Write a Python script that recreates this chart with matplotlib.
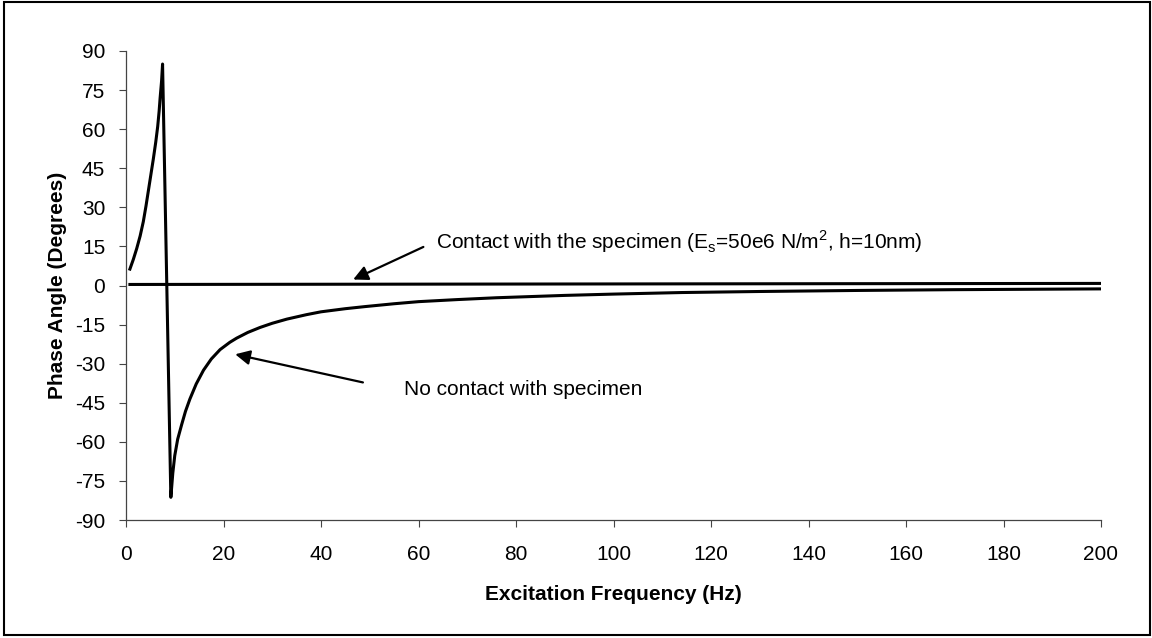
import numpy as np
import matplotlib
matplotlib.use("Agg")
import matplotlib.pyplot as plt
from matplotlib.patches import Rectangle

plt.rcParams['font.family'] = ['Liberation Sans', 'DejaVu Sans']
plt.rcParams['mathtext.fontset'] = 'custom'
plt.rcParams['mathtext.rm'] = 'Liberation Sans'
plt.rcParams['axes.unicode_minus'] = False

# no contact with specimen
freq_free = [0.8, 1.5, 2.2, 2.9, 3.55, 4.1, 4.6, 5.1, 5.6, 6.1, 6.5, 6.8, 7.0, 7.3, 7.5,
             9.2, 9.6, 10.0, 10.6, 11.4, 12.2, 13.1, 14.4, 15.9, 17.5, 19.3, 21.3,
             22.7, 25.0, 27.5, 30.0, 33.0, 37.0, 40.0, 45.0, 49.0, 55.0, 60.0, 68.0,
             76.0, 90.0, 100.0, 114.0, 130.0, 150.0, 170.0, 185.0, 200.0]
phase_free = [6.3, 10.0, 14.2, 19.0, 24.5, 30.5, 36.5, 42.5, 48.5, 55.0, 61.0, 67.0, 72.0,
              78.5, 85.0, -81.3, -72.0, -65.3, -59.0, -53.5, -48.3, -43.6, -37.8, -32.5,
              -28.2, -24.6, -21.8, -20.2, -18.0, -16.1, -14.5, -12.9, -11.2, -10.1, -8.9,
              -8.1, -7.0, -6.2, -5.4, -4.7, -3.8, -3.3, -2.7, -2.3, -1.9, -1.6, -1.45, -1.3]

# contact with the specimen
freq_contact = [0.8, 100.0, 200.0]
phase_contact = [0.4, 0.6, 0.8]

x_ticks = list(range(0, 201, 20))
y_ticks = list(range(-90, 91, 15))

fig = plt.figure(figsize=(11.52, 6.38), dpi=100)
ax = fig.add_axes([126/1152, 1-520/638, 975/1152, 469/638])

ax.plot(freq_contact, phase_contact, color='black', lw=2.2)
ax.plot(freq_free, phase_free, color='black', lw=2.2, solid_joinstyle='round')

ax.set_xlim(0, 200)
ax.set_ylim(-90, 90)
ax.set_xticks(x_ticks)
ax.set_yticks(y_ticks)
ax.tick_params(axis='both', labelsize=15, direction='out', length=5, width=0.8, color='#444')
ax.tick_params(axis='x', pad=13)
ax.tick_params(axis='y', pad=10)
for s in ['top', 'right']:
    ax.spines[s].set_visible(False)
for s in ['left', 'bottom']:
    ax.spines[s].set_color('#444')
    ax.spines[s].set_linewidth(0.9)

ax.set_xlabel('Excitation Frequency (Hz)', fontsize=15, fontweight='bold', labelpad=15)
ax.set_ylabel('Phase Angle (Degrees)', fontsize=15, fontweight='bold', labelpad=6)

ax.text(63.6, 16.9, r'Contact with the specimen (E$_\mathregular{s}$=50e6 N/m$^\mathregular{2}$, h=10nm)',
        fontsize=15, va='center', ha='left')
ax.text(57.0, -39.8, 'No contact with specimen', fontsize=15, va='center', ha='left')

arrow_style = dict(arrowstyle='-|>', color='black', lw=1.6, mutation_scale=22, shrinkA=0, shrinkB=0)
ax.annotate('', xy=(46.6, 2.3), xytext=(61.0, 14.8), arrowprops=arrow_style)
ax.annotate('', xy=(22.4, -26.4), xytext=(48.6, -37.2), arrowprops=arrow_style)

# outer frame
fig.patches.append(Rectangle((4/1152, 3/638), 1146/1152, 633/638, transform=fig.transFigure,
                             fill=False, edgecolor='black', lw=1.5))

fig.savefig('out.png', dpi=100)
